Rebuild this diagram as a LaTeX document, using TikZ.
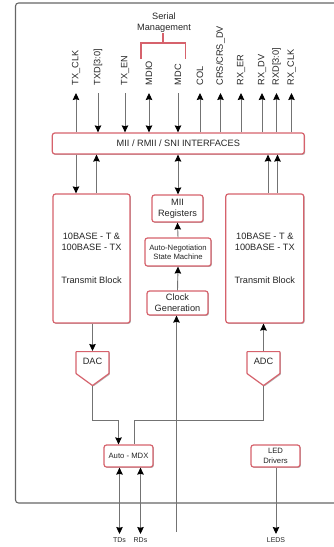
\documentclass[tikz,border=0pt]{standalone}
\usepackage{fontspec}
\setmainfont{Liberation Sans}
\usetikzlibrary{arrows.meta, shadows, shapes.symbols}
\definecolor{blockred}{RGB}{214,98,108}

\begin{document}
\begin{tikzpicture}[
  x=1pt, y=-1pt,
  >={Stealth[length=7pt,width=6.5pt,inset=0.8pt,black]},
  font=\fontsize{9.2}{11}\selectfont, text=black!85,
  block/.style={draw=blockred, line width=1.2pt, rounded corners=2.5pt, fill=white, inner sep=0pt, align=center,
    drop shadow={shadow xshift=0.9pt, shadow yshift=-0.9pt, fill=black!50, opacity=0.6}},
  small/.style={font=\fontsize{7.7}{9.5}\selectfont},
  converter/.style={block, rounded corners=0.5pt, shape=signal, signal to=south, signal from=nowhere, signal pointer angle=108, minimum width=33pt, minimum height=29pt, anchor=north},
  sig/.style={rotate=90, anchor=west, inner sep=0pt},
  pin/.style={font=\fontsize{7}{8}\selectfont, inner sep=0pt},
  arrow/.style={draw=black!55, line width=0.9pt},
  outline/.style={draw=black!60, line width=1.1pt, rounded corners=3pt}
]
\useasboundingbox (0,0) rectangle (334,547);
\clip (0,0) rectangle (334,547);

\draw[outline] (334,3) -- (15.5,3) -- (15.5,503) -- (334,503);

% top signals
\foreach \nm/\xx/\txt in {txclk/76/TX\_CLK, txd/98/TXD[3:0], txen/125/TX\_EN, mdio/149/MDIO, mdc/178/MDC, col/200/COL,
    crs/220.5/{CRS/CRS\_DV}, rxer/241/RX\_ER, rxdv/262/RX\_DV, rxd/276.5/RXD[3:0], rxclk/291.5/RX\_CLK}{
  \node[sig] (\nm) at (\xx,85.5) {\txt};
  \coordinate (\nm-tip) at (\xx,93);
}
\node[inner sep=0pt, align=center] (serial) at (164,23) {Serial\\Management};
\coordinate (brace) at (163,43);

% blocks
\node[block, minimum width=252pt, minimum height=21pt] (bar) at (178.3,143.5) {MII / RMII / SNI INTERFACES};
\node[block, minimum width=77pt, minimum height=129pt] (txblock) at (91.5,258.5) {10BASE - T \&\\100BASE - TX\\[22pt]Transmit Block};
\node[block, minimum width=78pt, minimum height=129pt] (rxblock) at (264.8,258.5) {10BASE - T \&\\100BASE - TX\\[22pt]Transmit Block};
\node[block, minimum width=51pt, minimum height=27pt] (regs) at (177.5,208.5) {MII\\Registers};
\node[block, small, minimum width=66pt, minimum height=28pt] (autoneg) at (178,252) {Auto-Negotiation\\State Machine};
\node[block, minimum width=61pt, minimum height=24pt] (clock) at (177.5,303) {Clock\\Generation};
\node[converter] (dac) at (92.5,351) {\raisebox{-1.5pt}[0pt][0pt]{DAC}};
\node[converter] (adc) at (263.5,351) {\raisebox{-1.5pt}[0pt][0pt]{ADC}};
\node[block, small, minimum width=49pt, minimum height=22pt] (mdx) at (128.5,456) {Auto - MDX};
\node[block, small, minimum width=49pt, minimum height=22pt] (led) at (275.5,456) {LED\\Drivers};

% bottom signals
\node[pin] (tds) at (119.5,540.5) {TDs};
\node[pin] (rds) at (140.5,540.5) {RDs};
\node[pin] (leds) at (276,540.5) {LEDS};
\coordinate (clkin) at (176.5,532);
\coordinate (tds-tip) at (119.5,534);
\coordinate (rds-tip) at (140.5,534);
\coordinate (leds-tip) at (276,534);
\coordinate (dacbend) at (92.5,420);
\coordinate (adcbend) at (263.5,420);
\coordinate (mdxl) at (118.5,420);
\coordinate (mdxr) at (134.5,420);

% top connectors
\draw[arrow, ->] (txclk-tip |- bar.north) -- (txclk-tip);
\draw[arrow, <-] (txd-tip |- bar.north) -- (txd-tip);
\draw[arrow, <-] (txen-tip |- bar.north) -- (txen-tip);
\draw[arrow, <->] (mdio-tip |- bar.north) -- (mdio-tip);
\draw[arrow, <-] (mdc-tip |- bar.north) -- (mdc-tip);
\draw[arrow, ->] (col-tip |- bar.north) -- (col-tip);
\draw[arrow, ->] (crs-tip |- bar.north) -- (crs-tip);
\draw[arrow, ->] (rxer-tip |- bar.north) -- (rxer-tip);
\draw[arrow, ->] (rxdv-tip |- bar.north) -- (rxdv-tip);
\draw[arrow, ->] (rxd-tip |- bar.north) -- (rxd-tip);
\draw[arrow, ->] (rxclk-tip |- bar.north) -- (rxclk-tip);

% serial management bracket
\draw[draw=blockred, line width=1.1pt] (141,59) |- (brace) -| (185.5,59);
\draw[draw=blockred, line width=1.1pt] (brace) -- (brace |- serial.south);

% middle connectors
\draw[arrow, ->] (txclk-tip |- bar.south) -- (txclk-tip |- txblock.north);
\draw[arrow, <-] (96.5,0 |- bar.south) -- (96.5,0 |- txblock.north);
\draw[arrow, <->] (mdc-tip |- bar.south) -- (mdc-tip |- regs.north);
\draw[arrow, <-] (268,0 |- bar.south) -- (268,0 |- rxblock.north);
\draw[arrow, <-] (277.5,0 |- bar.south) -- (277.5,0 |- rxblock.north);
\draw[arrow, ->] (autoneg.north) -- (regs.south);
\draw[arrow, ->] (clock.north) -- (autoneg.south);
\draw[arrow, ->] (clkin) -- (clkin |- clock.south);
\draw[arrow, ->] (txblock.south -| dac.north) -- (dac.north);
\draw[arrow, ->] (adc.north) -- (adc.north |- rxblock.south);

% lower connectors
\draw[arrow] (dac.south) -- (dacbend) -- (mdxl);
\draw[arrow, ->] (mdxl) -- (mdxl |- mdx.north);
\draw[arrow] (adc.south) -- (adcbend) -- (mdxr) -- (mdxr |- mdx.north);
\draw[arrow, <->] (tds-tip |- mdx.south) -- (tds-tip);
\draw[arrow, <->] (rds-tip |- mdx.south) -- (rds-tip);
\draw[arrow, ->] (leds-tip |- led.south) -- (leds-tip);

\end{tikzpicture}
\end{document}
